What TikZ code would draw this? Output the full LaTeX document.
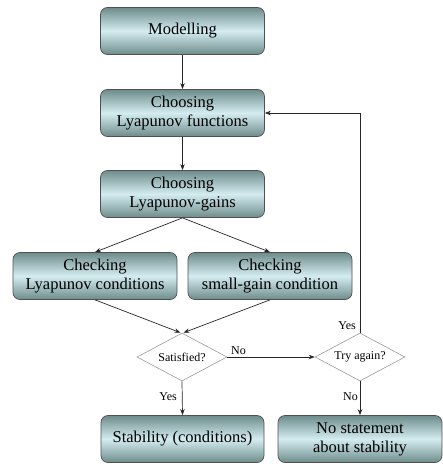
\documentclass[tikz,border=0pt]{standalone}
\usepackage{fontspec}
\setmainfont{Liberation Serif}
\usetikzlibrary{shapes.geometric,arrows.meta}
\definecolor{boxedge}{HTML}{6E8C8C}
\definecolor{boxmid}{HTML}{D4ECF0}
\definecolor{boxline}{HTML}{505050}
\tikzset{
  box/.style={draw=boxline, line width=0.7pt, rounded corners=7pt,
    top color=boxedge, bottom color=boxedge, middle color=boxmid,
    minimum width=164pt, minimum height=47pt, align=center,
    font=\fontsize{16.5}{19}\selectfont, inner sep=2pt},
  decision/.style={draw=gray!80, line width=0.6pt, diamond, aspect=1.875,
    inner sep=0pt, minimum width=90pt, minimum height=48pt,
    font=\fontsize{12}{14}\selectfont},
  arr/.style={draw=black!85, line width=0.7pt, -{Stealth[length=6pt,width=4.5pt]}},
  lbl/.style={font=\fontsize{12}{14}\selectfont, inner sep=0pt}
}
\begin{document}
\begin{tikzpicture}[x=1pt,y=-1pt]
\useasboundingbox (0,0) rectangle (443,464);
\node[box] (mod) at (182.5,31) {Modelling};
\node[box] (lyf) at (182.5,113) {Choosing\\Lyapunov functions};
\node[box] (lyg) at (182.5,194) {Choosing\\Lyapunov-gains};
\node[box] (chl) at (95,276) {Checking\\Lyapunov conditions};
\node[box] (chs) at (270,276) {Checking\\small-gain condition};
\node[decision] (sat) at (182,357) {Satisfied?};
\node[decision] (try) at (360,357) {Try again?};
\node[box, minimum width=163pt] (stab) at (182.5,439) {Stability (conditions)};
\node[box] (nost) at (360,439) {No statement\\about stability};

\draw[arr] (mod) -- (lyf);
\draw[arr] (lyf) -- (lyg);
\draw[arr] (lyg.south) -- (chl.north);
\draw[arr] (lyg.south) -- (chs.north);
\draw[arr] (chl.south) -- ([xshift=-1.5pt]sat.north);
\draw[arr] (chs.south) -- ([xshift=1.5pt]sat.north);
\draw[arr] (sat.east) -- (try.west);
\draw[arr] (sat.south) -- (stab.north);
\draw[arr] (try.south) -- (nost.north);
\draw[arr] (try.north) |- (lyf.east);

\node[lbl, anchor=south west] (lno) at (231,355) {No};
\node[lbl, anchor=east] (lyes1) at (356,326) {Yes};
\node[lbl, anchor=east] (lyes2) at (177,397) {Yes};
\node[lbl, anchor=east] (lno2) at (358,397) {No};
\end{tikzpicture}
\end{document}
